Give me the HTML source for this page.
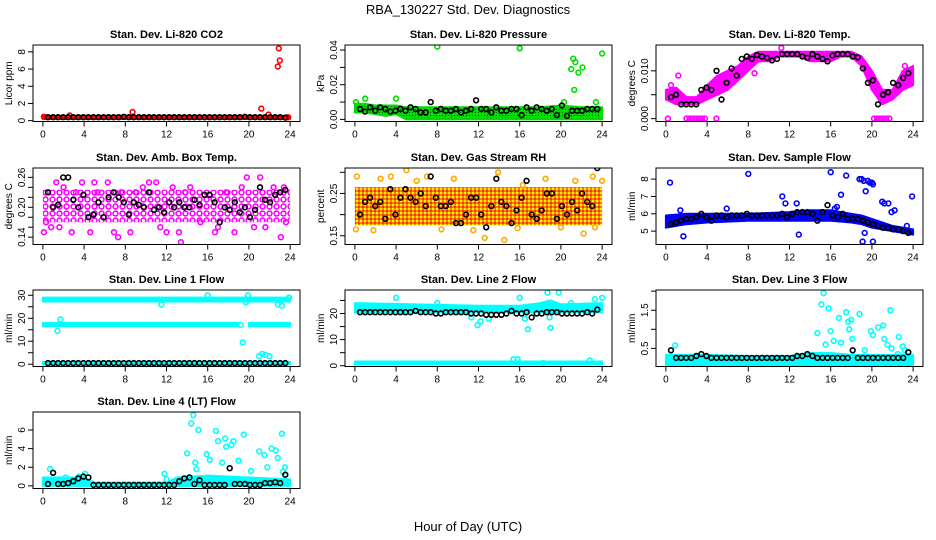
<!DOCTYPE html>
<html><head><meta charset="utf-8">
<style>
html,body{margin:0;padding:0;background:#fff;}
svg{display:block;font-family:"Liberation Sans",Arial,sans-serif;}
</style></head>
<body>
<svg id="chart" width="936" height="540" viewBox="0 0 936 540" xmlns="http://www.w3.org/2000/svg">
<defs>
<pattern id="pat-green" width="3" height="3" patternUnits="userSpaceOnUse"><rect width="3" height="3" fill="#00dd00"/><rect x="1" y="1" width="1" height="1" fill="#115511"/></pattern>
<pattern id="pat-rh" width="4" height="4" patternUnits="userSpaceOnUse"><rect width="4" height="4" fill="#ee8800"/><rect x="0" y="0" width="2" height="2" fill="#ffee00"/><rect x="2" y="2" width="2" height="2" fill="#ff3300"/></pattern>
<pattern id="pat-mag" width="7" height="7" patternUnits="userSpaceOnUse"><rect width="7" height="7" fill="#fff"/><circle cx="3.5" cy="3.5" r="2.4" fill="none" stroke="#ff00ff" stroke-width="1.6"/></pattern>
</defs>
<rect width="936" height="540" fill="#fff"/>
<text x="468" y="14" text-anchor="middle" font-size="13">RBA_130227  Std. Dev. Diagnostics</text>
<text x="468" y="531" text-anchor="middle" font-size="13">Hour of Day (UTC)</text>
</svg>
<script>
// ---- shared x-axis data ----
const xTicks = [0,4,8,12,16,20,24];

// ---- Panel 1: CO2 ----
const co2BandX = [0,24];
const co2BandLo = [0.2,0.2];
const co2BandHi = [0.5,0.5];
const co2PtsX = [0.1,2.6,8.7,21.2,21.9,22.8,22.9,23.0,23.8];
const co2PtsY = [0.45,0.6,1.0,1.4,0.7,6.3,8.4,7.0,0.4];
const co2Black = [0.4,0.4,0.4,0.4,0.4,0.4,0.4,0.4,0.4,0.4,0.4,0.4,0.4,0.4,0.4,0.45,0.4,0.4,0.4,0.4,0.4,0.4,0.4,0.4,0.4,0.4,0.4,0.4,0.4,0.4,0.4,0.4,0.4,0.4,0.4,0.4,0.4,0.4,0.4,0.45,0.4,0.4,0.4,0.4,0.4,0.4,0.4,0.35];

// ---- Panel 2: Pressure ----
const prsBandX = [0,1,2,3,4,5,6,8,10,12,14,16,18,20,22,24];
const prsBandLo = [0.004,0.004,0.003,0.002,0.003,0.0,0.0,0.0,0.0,0.0,0.0,0.0,0.0,0.0,0.0,0.0];
const prsBandHi = [0.009,0.009,0.008,0.008,0.008,0.007,0.007,0.007,0.007,0.007,0.007,0.007,0.007,0.008,0.007,0.007];
const prsPtsX = [0.1,1.0,4.0,8.0,16.0,20.3,21.0,21.2,21.3,21.4,21.7,22.1,23.4,24.0];
const prsPtsY = [0.010,0.012,0.012,0.042,0.041,0.010,0.029,0.035,0.017,0.033,0.027,0.030,0.010,0.038];
const prsBlack = [0.006,0.0045,0.007,0.005,0.007,0.006,0.0045,0.005,0.006,0.005,0.007,0.006,0.004,0.004,0.010,0.005,0.006,0.005,0.005,0.006,0.004,0.005,0.006,0.011,0.006,0.006,0.004,0.007,0.005,0.005,0.006,0.006,0.0025,0.007,0.005,0.007,0.006,0.005,0.006,0.0025,0.008,0.002,0.005,0.005,0.005,0.006,0.006,0.006];

// ---- Panel 3: Li-820 Temp ----
const tmpBandX = [0,1,2,3,4,5,6,7,8,9,10,11,12,13,14,15,16,17,18,19,20,21,22,23,24];
const tmpBandLo = [0.004,0.003,0.003,0.003,0.004,0.005,0.006,0.008,0.010,0.012,0.012,0.013,0.013,0.013,0.012,0.012,0.012,0.013,0.013,0.011,0.006,0.003,0.004,0.006,0.007];
const tmpBandHi = [0.006,0.0065,0.0045,0.0045,0.007,0.009,0.010,0.011,0.013,0.014,0.014,0.014,0.014,0.014,0.014,0.014,0.014,0.014,0.014,0.013,0.010,0.006,0.006,0.010,0.011];
const tmpPtsX = [0.2,0.5,1.2,2.0,2.3,2.6,2.9,3.2,3.5,3.8,4.9,8.6,11.2,20.2,20.5,20.8,21.1,21.4,21.7,23.2];
const tmpPtsY = [0,0.007,0.009,0,0,0,0,0,0,0,0,0.0095,0.0148,0,0,0,0,0,0,0.011];
const tmpBlack = [0.0045,0.005,0.003,0.003,0.003,0.003,0.006,0.0065,0.006,0.010,0.004,0.0075,0.0105,0.009,0.0125,0.013,0.0125,0.0133,0.013,0.0127,0.0122,0.0125,0.0135,0.0135,0.0135,0.0135,0.013,0.0127,0.0135,0.013,0.0125,0.012,0.0132,0.0135,0.0135,0.0135,0.013,0.0128,0.0105,0.0075,0.008,0.003,0.005,0.0055,0.0075,0.007,0.0085,0.0095];

// ---- Panel 4: Amb Box Temp ----
const ambBandX = [0,24];
const ambBandLo = [0.17,0.17];
const ambBandHi = [0.235,0.235];
const ambPtsX = [0.1,0.3,0.8,1.3,1.6,2.0,2.8,3.2,3.8,4.6,5.0,5.3,6.3,6.9,7.3,7.6,8.5,9.0,9.7,10.3,11.0,11.4,12.0,12.6,13.2,13.4,13.8,14.3,15.3,16.7,17.0,17.8,18.6,19.3,19.8,20.5,21.1,21.6,22.4,23.1,23.4,23.6];
const ambPtsY = [0.15,0.17,0.16,0.25,0.16,0.24,0.15,0.23,0.25,0.15,0.25,0.23,0.25,0.15,0.14,0.23,0.15,0.23,0.24,0.25,0.25,0.16,0.15,0.24,0.15,0.13,0.23,0.24,0.17,0.15,0.16,0.23,0.15,0.24,0.26,0.16,0.26,0.16,0.24,0.14,0.24,0.17];
const ambBlack = [0.23,0.2,0.205,0.26,0.26,0.215,0.2,0.225,0.18,0.185,0.21,0.18,0.22,0.23,0.22,0.21,0.185,0.21,0.205,0.2,0.23,0.195,0.2,0.19,0.21,0.2,0.21,0.2,0.2,0.215,0.205,0.225,0.225,0.21,0.17,0.2,0.195,0.21,0.19,0.2,0.18,0.195,0.24,0.215,0.21,0.225,0.23,0.235];

// ---- Panel 5: Gas Stream RH ----
const rhBandX = [0,24];
const rhBandLo = [0.175,0.175];
const rhBandHi = [0.265,0.265];
const rhPtsX = [0.1,0.2,1.8,2.5,3.5,5.0,6.0,7.0,8.4,9.6,11.5,12.6,13.9,14.5,15.8,16.3,18.5,20.0,21.4,22.2,23.1,23.3,24.0];
const rhPtsY = [0.165,0.29,0.163,0.285,0.29,0.305,0.28,0.29,0.165,0.285,0.163,0.145,0.3,0.14,0.168,0.27,0.285,0.17,0.28,0.155,0.29,0.17,0.28];
const rhBlack = [0.2,0.23,0.24,0.22,0.23,0.19,0.26,0.2,0.24,0.26,0.24,0.23,0.25,0.22,0.29,0.24,0.22,0.22,0.23,0.18,0.18,0.2,0.24,0.24,0.2,0.17,0.22,0.285,0.23,0.22,0.18,0.21,0.24,0.28,0.2,0.19,0.21,0.25,0.25,0.19,0.22,0.2,0.23,0.21,0.25,0.23,0.22,0.31];

// ---- Panel 6: Sample Flow ----
const sfBandX = [0,2,4,8,12,14,16,18,19,20,22,24];
const sfBandLo = [5.2,5.4,5.5,5.6,5.6,5.6,5.6,5.5,5.4,5.2,5.0,4.8];
const sfBandHi = [5.9,6.0,6.0,6.0,6.1,6.2,6.2,6.0,5.9,5.7,5.3,5.1];
const sfPtsX = [0.4,1.4,1.7,5.9,8.0,11.3,11.6,12.7,12.9,16.0,16.4,16.6,17.0,17.5,18.8,19.0,19.2,19.4,19.6,19.8,20.0,20.1,20.1,21.0,21.2,21.6,21.9,22.2,19.1,19.3,23.4,23.9];
const sfPtsY = [7.8,6.2,4.7,6.3,8.3,7.0,6.6,6.6,4.8,8.4,6.3,6.4,7.1,8.2,8.0,8.0,7.9,7.3,7.9,7.8,7.8,4.4,7.7,6.7,6.6,6.6,6.1,6.2,4.4,4.9,5.3,7.0];
const sfBlack = [5.4,5.5,5.6,5.7,5.7,5.8,6.0,5.8,5.6,5.9,5.9,5.8,5.9,5.9,5.9,6.0,5.9,5.9,5.9,5.9,5.9,5.9,6.0,5.8,6.0,6.1,6.1,6.1,6.0,5.6,6.1,6.5,5.9,5.8,6.0,5.7,5.7,5.7,5.6,5.5,5.4,5.3,5.2,5.2,5.1,5.1,5.0,4.9];

// ---- Panel 7: Line 1 Flow ----
const l1BandX = [0,24];
const l1BandLo = [27.3,27.3];
const l1BandHi = [29.0,29.0];
const l1Band2X = [0,19];
const l1Band2Lo = [16.5,16.5];
const l1Band2Hi = [18.0,18.0];
const l1Band3X = [20,24];
const l1Band3Lo = [16.5,16.5];
const l1Band3Hi = [18.0,18.0];
const l1Band4X = [0,24];
const l1Band4Lo = [0,0];
const l1Band4Hi = [1.0,1.0];
const l1PtsX = [1.4,1.7,11.5,16,19.2,19.4,19.7,19.9,21.0,21.3,21.6,22.0,22.8,23.2,23.9];
const l1PtsY = [14.5,19.5,26,30,17,9.5,27,30,3.5,4.5,4,3.5,26,25.5,29];
const l1Black = [0.5,0.5,0.5,0.5,0.5,0.5,0.5,0.5,0.5,0.5,0.5,0.5,0.5,0.5,0.5,0.5,0.5,0.5,0.5,0.5,0.5,0.5,0.5,0.5,0.5,0.5,0.5,0.5,0.5,0.5,0.5,0.5,0.5,0.5,0.5,0.5,0.5,0.5,0.5,0.5,0.5,0.5,0.5,0.5,0.5,0.5,0.5,0.5];

// ---- Panel 8: Line 2 Flow ----
const l2BandX = [0,6,12,16,18,19,20,24];
const l2BandLo = [20.5,20.5,20.5,20.5,20.5,20.5,20.5,20.5];
const l2BandHi = [24.0,23.5,23.0,23.0,24.0,25.0,23.5,24.0];
const l2Band2X = [0,24];
const l2Band2Lo = [0.5,0.5];
const l2Band2Hi = [1.6,1.6];
const l2PtsX = [4.0,8.0,11.3,11.9,12.2,13.0,16.0,16.5,16.8,18.7,18.9,19.0,19.1,19.8,21.0,22.8,23.3,24.0,15.4,15.8,18.3];
const l2PtsY = [26,24,18.5,15.5,17,18,26,18,14,28,18.5,14.5,24,28,24,2,25.5,26,2.5,2.5,1];
const l2Black = [20.5,20.5,20.5,20.5,20.5,20.5,20.5,20.5,20.5,20.5,20.5,21,20.5,20.5,20.5,20,20,20.5,20.5,20.5,20.5,20.5,20,20,20,19.5,19.5,19.5,19.5,20,21,20,20,20.5,18.5,20,20,20.5,20.5,20.5,20,20,20,20,20,20.5,20,21.5];

// ---- Panel 9: Line 3 Flow ----
const l3BandX = [0,4,8,12,14,16,18,20,24];
const l3BandLo = [0.05,0.05,0.05,0.05,0.05,0.05,0.05,0.05,0.05];
const l3BandHi = [0.33,0.33,0.3,0.3,0.38,0.38,0.33,0.33,0.33];
const l3PtsX = [0.9,14.7,15.1,15.3,15.5,15.8,16.0,16.3,16.8,17.0,17.5,17.7,17.8,18.0,18.1,18.8,19.3,19.9,20.1,20.6,21.1,21.2,21.5,21.8,21.9,22.5,22.6,23.0,23.2,23.4];
const l3PtsY = [0.58,0.9,1.65,1.95,0.6,1.55,0.95,0.7,1.3,0.65,1.45,1.2,1.0,1.25,0.75,1.4,0.45,0.95,0.85,1.05,1.1,0.75,0.6,1.5,0.5,0.35,0.8,0.55,0.45,0.3];
const l3Black = [0.45,0.25,0.25,0.25,0.25,0.3,0.35,0.3,0.25,0.25,0.25,0.25,0.25,0.25,0.25,0.25,0.25,0.25,0.25,0.25,0.25,0.25,0.25,0.25,0.25,0.3,0.3,0.35,0.3,0.25,0.25,0.25,0.25,0.25,0.25,0.25,0.45,0.25,0.25,0.25,0.25,0.25,0.25,0.25,0.25,0.25,0.25,0.4];

// ---- Panel 10: Line 4 (LT) Flow ----
const l4BandX = [0,4,5,12,13,16,24];
const l4BandLo = [0,0,0,0,0,0,0];
const l4BandHi = [0.9,0.9,0.35,0.35,0.9,1.1,0.7];
const l4PtsX = [0.7,2.2,3.5,4.1,11.8,12.0,14.0,14.4,14.6,14.8,14.9,15.1,15.9,16.2,16.8,17.0,17.4,17.7,17.8,18.3,18.5,19.0,19.5,20.2,21.0,21.5,21.8,22.2,22.6,22.8,23.2,23.3,23.5];
const l4PtsY = [1.8,0.9,1.0,1.3,1.3,0.7,3.5,6.7,7.6,2.5,1.8,6.0,3.4,2.8,5.9,4.8,2.5,5.1,4.2,4.4,4.8,2.7,5.5,1.6,3.7,3.3,2.0,4.0,3.8,3.0,5.6,1.5,2.0];
const l4Black = [0.2,1.4,0.2,0.2,0.3,0.5,0.8,1.0,0.9,0.1,0.1,0.1,0.1,0.1,0.1,0.1,0.1,0.1,0.1,0.1,0.1,0.1,0.1,0.1,0.1,0.1,0.5,0.8,0.9,0.2,0.6,0.1,0.1,0.1,0.1,0.1,1.9,0.2,0.2,0.2,0.1,0.1,0.1,0.3,0.3,0.4,0.3,1.2];

// ---- layout ----
const NS = 'http://www.w3.org/2000/svg';
const svg = document.getElementById('chart');
const colL = [33,345,656], colR = [300,612,923];
const rowT = [45,168,290,412], rowH = 76.5;

function mk(tag, attrs, parent){
  const e = document.createElementNS(NS, tag);
  for (const k in attrs) e.setAttribute(k, attrs[k]);
  (parent||svg).appendChild(e); return e;
}

const panels = [
 {id:'co2',title:'Stan. Dev. Li-820 CO2',ylab:'Licor ppm',col:0,row:0,yr:[-0.1,8.8],yt:[0,2,4,6,8],yl:['0','2','4','6','8'],color:'#ff0000',bandColor:'#ff0000',
  bands:[[co2BandX,co2BandLo,co2BandHi]],px:co2PtsX,py:co2PtsY,black:co2Black},
 {id:'pressure',title:'Stan. Dev. Li-820 Pressure',ylab:'kPa',col:1,row:0,yr:[-0.0012,0.0429],yt:[0,0.01,0.02,0.03,0.04],yl:['0.00','','0.02','','0.04'],color:'#00dd00',bandColor:'url(#pat-green)',
  bands:[[prsBandX,prsBandLo,prsBandHi]],px:prsPtsX,py:prsPtsY,black:prsBlack},
 {id:'li820-temp',title:'Stan. Dev. Li-820 Temp.',ylab:'degrees C',col:2,row:0,yr:[-0.0006,0.0154],yt:[0,0.005,0.01],yl:['0.000','','0.010'],color:'#ff00ff',bandColor:'#ff00ff',
  bands:[[tmpBandX,tmpBandLo,tmpBandHi]],px:tmpPtsX,py:tmpPtsY,black:tmpBlack},
 {id:'amb-box-temp',title:'Stan. Dev. Amb. Box Temp.',ylab:'degrees C',col:0,row:1,yr:[0.1253,0.2788],yt:[0.14,0.16,0.18,0.2,0.22,0.24,0.26],yl:['0.14','','','0.20','','','0.26'],color:'#ff00ff',bandColor:'url(#pat-mag)',bandStroke:'none',
  bands:[[ambBandX,ambBandLo,ambBandHi]],px:ambPtsX,py:ambPtsY,black:ambBlack},
 {id:'gas-stream-rh',title:'Stan. Dev. Gas Stream RH',ylab:'percent',col:1,row:1,yr:[0.1293,0.3102],yt:[0.15,0.2,0.25,0.3],yl:['0.15','','0.25',''],color:'#ffaa00',bandColor:'url(#pat-rh)',bandStroke:'none',
  bands:[[rhBandX,rhBandLo,rhBandHi]],px:rhPtsX,py:rhPtsY,black:rhBlack},
 {id:'sample-flow',title:'Stan. Dev. Sample Flow',ylab:'ml/min',col:2,row:1,yr:[4.23,8.64],yt:[5,6,7,8],yl:['5','6','7','8'],color:'#0000ff',bandColor:'#0000ff',
  bands:[[sfBandX,sfBandLo,sfBandHi]],px:sfPtsX,py:sfPtsY,black:sfBlack},
 {id:'line1-flow',title:'Stan. Dev. Line 1 Flow',ylab:'ml/min',col:0,row:2,yr:[-1,32.3],yt:[0,5,10,15,20,25,30],yl:['0','','10','','20','','30'],color:'#00ffff',bandColor:'#00ffff',
  bands:[[l1BandX,l1BandLo,l1BandHi],[l1Band2X,l1Band2Lo,l1Band2Hi],[l1Band3X,l1Band3Lo,l1Band3Hi],[l1Band4X,l1Band4Lo,l1Band4Hi]],px:l1PtsX,py:l1PtsY,black:l1Black},
 {id:'line2-flow',title:'Stan. Dev. Line 2 Flow',ylab:'ml/min',col:1,row:2,yr:[-0.3,29],yt:[0,5,10,15,20,25],yl:['0','','10','','20',''],color:'#00ffff',bandColor:'#00ffff',
  bands:[[l2BandX,l2BandLo,l2BandHi],[l2Band2X,l2Band2Lo,l2Band2Hi]],px:l2PtsX,py:l2PtsY,black:l2Black},
 {id:'line3-flow',title:'Stan. Dev. Line 3 Flow',ylab:'ml/min',col:2,row:2,yr:[0.026,2.03],yt:[0.5,1,1.5,2],yl:['0.5','','1.5',''],color:'#00ffff',bandColor:'#00ffff',
  bands:[[l3BandX,l3BandLo,l3BandHi]],px:l3PtsX,py:l3PtsY,black:l3Black},
 {id:'line4-flow',title:'Stan. Dev. Line 4 (LT) Flow',ylab:'ml/min',col:0,row:3,yr:[-0.28,7.93],yt:[0,2,4,6],yl:['0','2','4','6'],color:'#00ffff',bandColor:'#00ffff',
  bands:[[l4BandX,l4BandLo,l4BandHi]],px:l4PtsX,py:l4PtsY,black:l4Black}
];

panels.forEach(p => {
  const L = colL[p.col], R = colR[p.col], T = rowT[p.row], B = T + rowH;
  const xs = h => L + (R-L) * (h + 0.96) / 25.92;
  const ys = v => B - (B-T) * (v - p.yr[0]) / (p.yr[1]-p.yr[0]);
  const g = mk('g', {});
  
  
  const cx = (L+R)/2;
  const t = mk('text', {x:cx, y:T-7, 'text-anchor':'middle','font-size':'11','font-weight':'bold'}, g);
  
  
  t.textContent = p.title;
  const clip = mk('clipPath', {id:'clip-'+p.id}, g);
  mk('rect', {x:L, y:T, width:R-L, height:B-T}, clip);
  const data = mk('g', {'clip-path':'url(#clip-'+p.id+')'}, g);
  p.bands.forEach(b => {
    const [bx, lo, hi] = b;
    let d = '';
    bx.forEach((h,i) => { d += (i?'L':'M') + xs(h).toFixed(1) + ',' + ys(hi[i]).toFixed(1); });
    for (let i = bx.length-1; i >= 0; i--) d += 'L' + xs(bx[i]).toFixed(1) + ',' + ys(lo[i]).toFixed(1);
    d += 'Z';
    const pa = mk('path', {d:d, fill:p.bandColor, stroke:p.bandStroke||p.color, 'stroke-width':'2','stroke-linejoin':'round'}, data);
    
    
  });
  p.px.forEach((h,i) => {
    const c = mk('circle', {cx:xs(h).toFixed(1), cy:ys(p.py[i]).toFixed(1), r:'2.4', fill:'none', stroke:p.color, 'stroke-width':'1.6'}, data);
    
    
  });
  p.black.forEach((v,i) => {
    const h = 0.5 + i*0.49;
    const c = mk('circle', {cx:xs(h).toFixed(1), cy:ys(v).toFixed(1), r:'2.4', fill:'none', stroke:'#000', 'stroke-width':'1.6'}, data);
    
    
  });
  const box = mk('rect', {x:L, y:T, width:R-L, height:B-T, fill:'none', stroke:'#000', 'stroke-width':'1'}, g);
  
  
  const xa = mk('g', {}, g);
  
  
  mk('line', {x1:xs(xTicks[0]), x2:xs(xTicks[xTicks.length-1]), y1:B, y2:B, stroke:'#000'}, xa);
  xTicks.forEach(h => {
    mk('line', {x1:xs(h), x2:xs(h), y1:B, y2:B+5, stroke:'#000'}, xa);
    const tx = mk('text', {x:xs(h), y:B+16, 'text-anchor':'middle', 'font-size':'10'}, xa);
    tx.textContent = h;
  });
  const ya = mk('g', {}, g);
  
  
  mk('line', {x1:L, x2:L, y1:ys(p.yt[0]), y2:ys(p.yt[p.yt.length-1]), stroke:'#000'}, ya);
  p.yt.forEach((v,i) => {
    const y = ys(v);
    mk('line', {x1:L-5, x2:L, y1:y, y2:y, stroke:'#000'}, ya);
    if (p.yl[i]) {
      const ty = mk('text', {x:L-8, y:y, 'text-anchor':'middle', 'font-size':'10', transform:'rotate(-90 '+(L-8)+' '+y+')'}, ya);
      ty.textContent = p.yl[i];
    }
  });
  const yl = mk('text', {x:L-21, y:(T+B)/2, 'text-anchor':'middle', 'font-size':'10', transform:'rotate(-90 '+(L-21)+' '+((T+B)/2)+')'}, g);
  
  
  yl.textContent = p.ylab;
});
</script>
</body></html>
